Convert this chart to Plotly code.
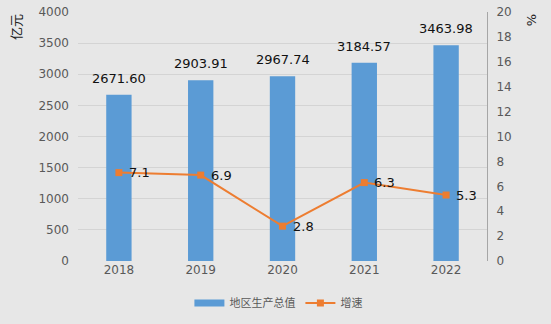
import plotly.graph_objects as go

years = ["2018", "2019", "2020", "2021", "2022"]
gdp = [2671.60, 2903.91, 2967.74, 3184.57, 3463.98]
growth = [7.1, 6.9, 2.8, 6.3, 5.3]

bar_color = "#5b9bd5"
line_color = "#ed7d31"
bg = "#e7e7e7"
font_family = "DejaVu Sans"
label_font = dict(family=font_family, size=13, color="#111111")

pos = list(range(len(years)))

fig = go.Figure()

fig.add_trace(go.Bar(
    x=pos, y=gdp, name="地区生产总值",
    marker=dict(color=bar_color, line=dict(width=0)),
    width=0.31, showlegend=False,
))

# legend entry drawn as a wide swatch for the bar series
fig.add_trace(go.Scatter(
    x=[None], y=[None], name="地区生产总值", mode="lines",
    line=dict(color=bar_color, width=7), showlegend=True,
))

fig.add_trace(go.Scatter(
    x=pos, y=growth, name="增速", yaxis="y2",
    mode="lines+markers",
    line=dict(color=line_color, width=2),
    marker=dict(symbol="square", size=7, color=line_color),
))

# value labels above bars
for p, v in zip(pos, gdp):
    fig.add_annotation(
        x=p, y=v, text=f"{v:.2f}", showarrow=False,
        yanchor="bottom", yshift=7, font=label_font,
    )

# growth labels to the right of the markers
for p, v in zip(pos, growth):
    fig.add_annotation(
        x=p, y=v, yref="y2", text=f"{v:.1f}", showarrow=False,
        xanchor="left", yanchor="middle", xshift=8, font=label_font,
    )

fig.add_annotation(
    xref="paper", yref="paper", x=-0.154, xanchor="center", y=1.0, text="亿元",
    showarrow=False, textangle=-90, yanchor="top",
    font=dict(family="Noto Sans CJK SC", size=13, color="#222222"),
)
fig.add_annotation(
    xref="paper", yref="paper", x=1.108, xanchor="center", y=1.0, text="%",
    showarrow=False, textangle=-90, yanchor="top",
    font=dict(family=font_family, size=13, color="#222222"),
)

fig.update_layout(
    width=551, height=324,
    margin=dict(l=78, r=64, t=12, b=63, autoexpand=False),
    paper_bgcolor=bg, plot_bgcolor=bg,
    font=dict(family=font_family, size=12, color="#595959"),
    xaxis=dict(
        range=[-0.5, len(years) - 0.5],
        tickvals=pos, ticktext=years,
        showgrid=False, showline=False, zeroline=False, ticks="",
        tickfont=dict(family=font_family, size=12, color="#595959"),
    ),
    yaxis=dict(
        range=[0, 4000], dtick=500, showgrid=True, gridcolor="#d4d4d4",
        gridwidth=1, zeroline=False, showline=False, ticks="",
        ticklabelstandoff=8,
        tickfont=dict(family=font_family, size=12, color="#595959"),
    ),
    yaxis2=dict(
        overlaying="y", side="right", range=[0, 20], dtick=2,
        showgrid=False, zeroline=False, showline=True, linecolor="#a6a6a6",
        linewidth=1, ticks="", ticklabelstandoff=6,
        tickfont=dict(family=font_family, size=12, color="#595959"),
    ),
    showlegend=True,
    legend=dict(
        orientation="h", x=0.49, xanchor="center",
        yref="container", y=0.065, yanchor="middle",
        bgcolor="rgba(0,0,0,0)",
        font=dict(family="Noto Sans CJK SC", size=11, color="#595959"),
        itemwidth=30, tracegroupgap=0,
    ),
)

fig.write_html("out.html")
